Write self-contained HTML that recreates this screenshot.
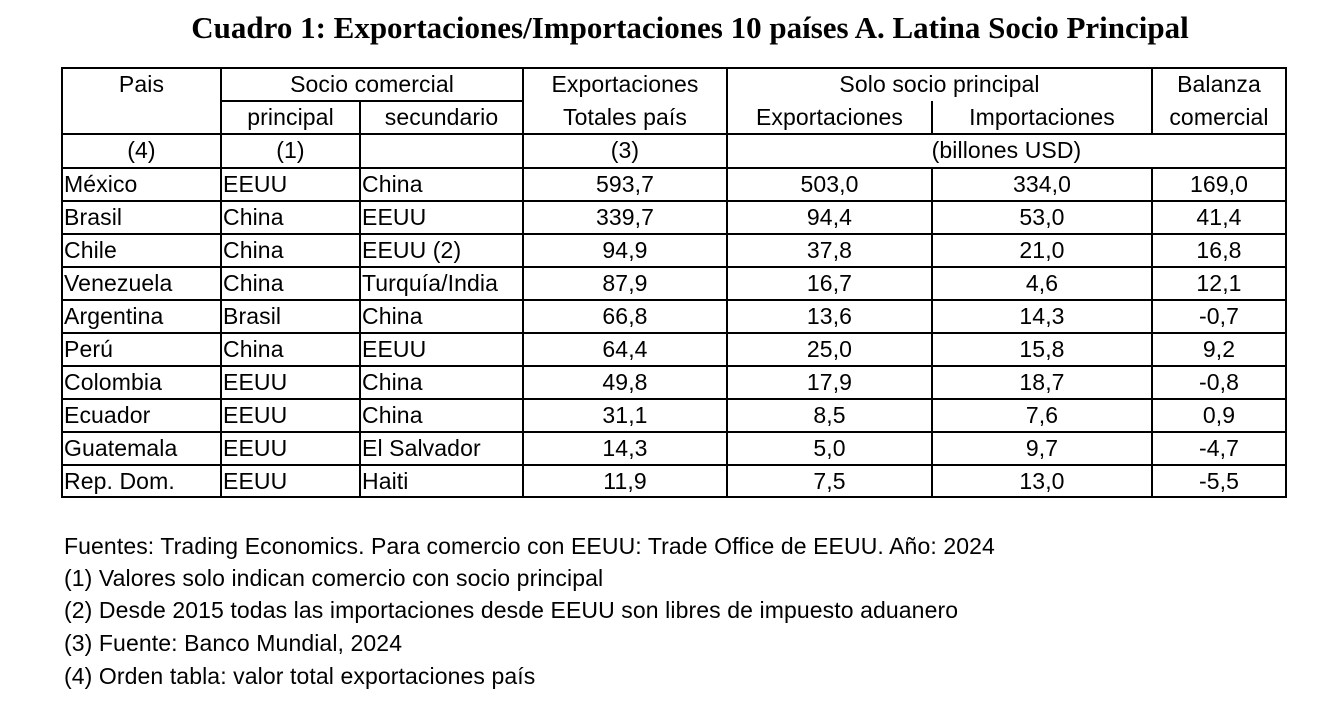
<!DOCTYPE html>
<html><head><meta charset="utf-8"><style>
body{margin:0;width:1340px;height:702px;background:#fff;position:relative;overflow:hidden;font-family:"Liberation Sans",Arial,sans-serif;color:#000}
.t{position:absolute;font-size:23px;line-height:23px;white-space:nowrap;letter-spacing:0.1px}
.c{text-align:center}
h1{position:absolute;left:0;width:1380px;top:10px;margin:0;text-align:center;font:bold 31px "Liberation Serif",serif}
svg{position:absolute;left:0;top:0}
</style></head><body>
<h1>Cuadro 1: Exportaciones/Importaciones 10 países A. Latina Socio Principal</h1>
<svg width="1340" height="702">
<g stroke="#000" stroke-width="2" fill="none">
<rect x="62" y="68" width="1224" height="429"/>
<line x1="221" y1="101" x2="523" y2="101"/>
<line x1="62" y1="134" x2="1286" y2="134"/>
<line x1="62" y1="168" x2="1286" y2="168"/>
<line x1="62" y1="201" x2="1286" y2="201"/>
<line x1="62" y1="234" x2="1286" y2="234"/>
<line x1="62" y1="267" x2="1286" y2="267"/>
<line x1="62" y1="300" x2="1286" y2="300"/>
<line x1="62" y1="333" x2="1286" y2="333"/>
<line x1="62" y1="366" x2="1286" y2="366"/>
<line x1="62" y1="399" x2="1286" y2="399"/>
<line x1="62" y1="432" x2="1286" y2="432"/>
<line x1="62" y1="465" x2="1286" y2="465"/>
<line x1="221" y1="68" x2="221" y2="497"/>
<line x1="360" y1="101" x2="360" y2="497"/>
<line x1="523" y1="68" x2="523" y2="497"/>
<line x1="727" y1="68" x2="727" y2="497"/>
<line x1="932" y1="101" x2="932" y2="134"/>
<line x1="932" y1="168" x2="932" y2="497"/>
<line x1="1152" y1="68" x2="1152" y2="134"/>
<line x1="1152" y1="168" x2="1152" y2="497"/>
</g></svg>
<div class="t c" style="left:62px;width:159px;top:73px">Pais</div>
<div class="t c" style="left:221px;width:302px;top:73px">Socio comercial</div>
<div class="t c" style="left:523px;width:204px;top:73px">Exportaciones</div>
<div class="t c" style="left:727px;width:425px;top:73px">Solo socio principal</div>
<div class="t c" style="left:1152px;width:134px;top:73px">Balanza</div>
<div class="t c" style="left:221px;width:139px;top:106px">principal</div>
<div class="t c" style="left:360px;width:163px;top:106px">secundario</div>
<div class="t c" style="left:523px;width:204px;top:106px">Totales país</div>
<div class="t c" style="left:727px;width:205px;top:106px">Exportaciones</div>
<div class="t c" style="left:932px;width:220px;top:106px">Importaciones</div>
<div class="t c" style="left:1152px;width:134px;top:106px">comercial</div>
<div class="t c" style="left:62px;width:159px;top:139px">(4)</div>
<div class="t c" style="left:221px;width:139px;top:139px">(1)</div>
<div class="t c" style="left:523px;width:204px;top:139px">(3)</div>
<div class="t c" style="left:727px;width:559px;top:139px">(billones USD)</div>
<div id="rows"></div>
<script>
var d=[["México","EEUU","China","593,7","503,0","334,0","169,0"],["Brasil","China","EEUU","339,7","94,4","53,0","41,4"],["Chile","China","EEUU (2)","94,9","37,8","21,0","16,8"],["Venezuela","China","Turquía/India","87,9","16,7","4,6","12,1"],["Argentina","Brasil","China","66,8","13,6","14,3","-0,7"],["Perú","China","EEUU","64,4","25,0","15,8","9,2"],["Colombia","EEUU","China","49,8","17,9","18,7","-0,8"],["Ecuador","EEUU","China","31,1","8,5","7,6","0,9"],["Guatemala","EEUU","El Salvador","14,3","5,0","9,7","-4,7"],["Rep. Dom.","EEUU","Haiti","11,9","7,5","13,0","-5,5"]];
var L=[[64],[223],[362],[523,204],[727,205],[932,220],[1152,134]],h="";
d.forEach(function(r,i){var y=173+i*33;r.forEach(function(v,j){var s=L[j];h+=s.length>1?'<div class="t c" style="left:'+s[0]+'px;width:'+s[1]+'px;top:'+y+'px">'+v+'</div>':'<div class="t" style="left:'+s[0]+'px;top:'+y+'px">'+v+'</div>';});});
document.getElementById("rows").outerHTML=h;
</script>
<div class="t" style="left:64px;top:535px">Fuentes: Trading Economics. Para comercio con EEUU: Trade Office de EEUU. Año: 2024</div>
<div class="t" style="left:64px;top:567px">(1) Valores solo indican comercio con socio principal</div>
<div class="t" style="left:64px;top:599px">(2) Desde 2015 todas las importaciones desde EEUU son libres de impuesto aduanero</div>
<div class="t" style="left:64px;top:632px">(3) Fuente: Banco Mundial, 2024</div>
<div class="t" style="left:64px;top:665px">(4) Orden tabla: valor total exportaciones país</div>
</body></html>
